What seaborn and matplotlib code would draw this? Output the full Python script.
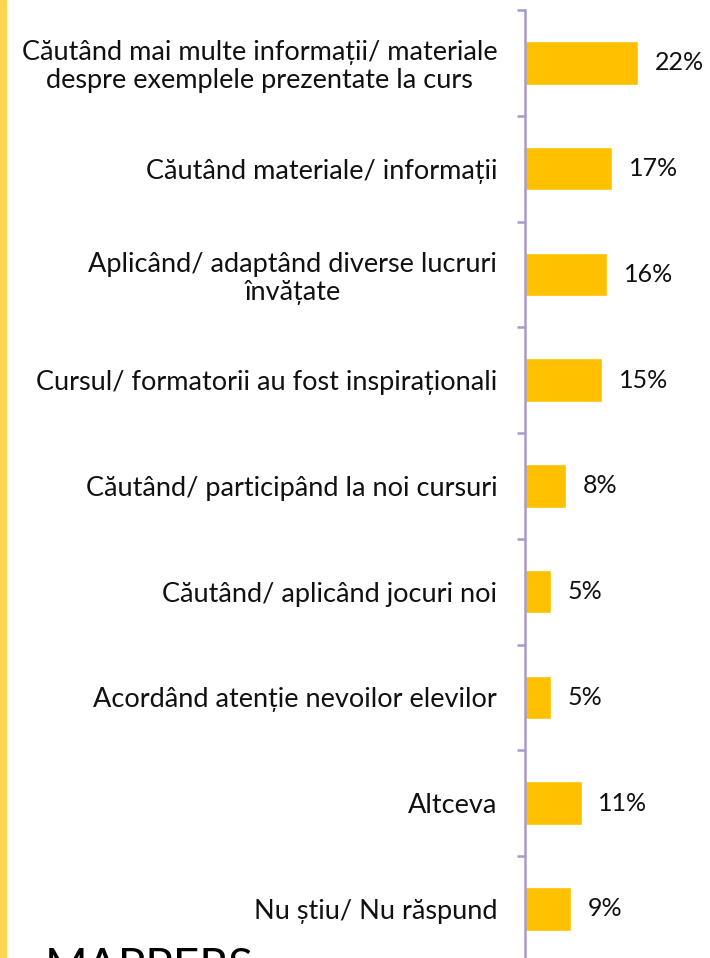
import numpy as np
import pandas as pd
import matplotlib
matplotlib.use("Agg")
import matplotlib.pyplot as plt
import seaborn as sns
from matplotlib.patches import Rectangle

categories = [
    "Căutând mai multe informații/ materiale\ndespre exemplele prezentate la curs",
    "Căutând materiale/ informații",
    "Aplicând/ adaptând diverse lucruri\nînvățate",
    "Cursul/ formatorii au fost inspiraționali",
    "Căutând/ participând la noi cursuri",
    "Căutând/ aplicând jocuri noi",
    "Acordând atenție nevoilor elevilor",
    "Altceva",
    "Nu știu/ Nu răspund",
]
values = [22, 17, 16, 15, 8, 5, 5, 11, 9]

df = pd.DataFrame({"cat": categories, "val": values})

sns.set_style("white")
plt.rcParams["font.family"] = ["Lato", "DejaVu Sans"]

fig = plt.figure(figsize=(7.1, 9.58), dpi=100)
ax = fig.add_axes([525 / 710, 1 - 961.75 / 958, 185 / 710, 951.75 / 958])

sns.barplot(data=df, x="val", y="cat", orient="h", color="#FFC000",
            width=0.41, saturation=1, ax=ax)

ax.set_xlim(0, 36)
ax.set_ylim(8.5, -0.5)
ax.set_xlabel("")
ax.set_ylabel("")
ax.set_xticks([])

for s in ["top", "right", "bottom"]:
    ax.spines[s].set_visible(False)
ax.spines["left"].set_color("#A99BC9")
ax.spines["left"].set_linewidth(1.8)

ax.set_yticks(np.arange(-0.5, 8.5, 1), minor=True)
ax.tick_params(axis="y", which="major", length=0, pad=20, labelsize=19.5, labelcolor="#111111")
ax.tick_params(axis="y", which="minor", length=6, width=1.8, color="#A99BC9", direction="out", left=True)
for lab in ax.get_yticklabels():
    lab.set_multialignment("center")
    lab.set_linespacing(1.15)

ax.bar_label(ax.containers[0], labels=[f"{v}%" for v in values], padding=12,
             fontsize=18, color="#111111")

fig.add_artist(Rectangle((0, 0), 6 / 710, 1, transform=fig.transFigure,
                         color="#FFD54F", zorder=5))
fig.text(45 / 710, 1 - 947 / 958, "MAPPERS", fontsize=33, va="top", ha="left",
         color="black")

fig.savefig("out.png", dpi=100)
